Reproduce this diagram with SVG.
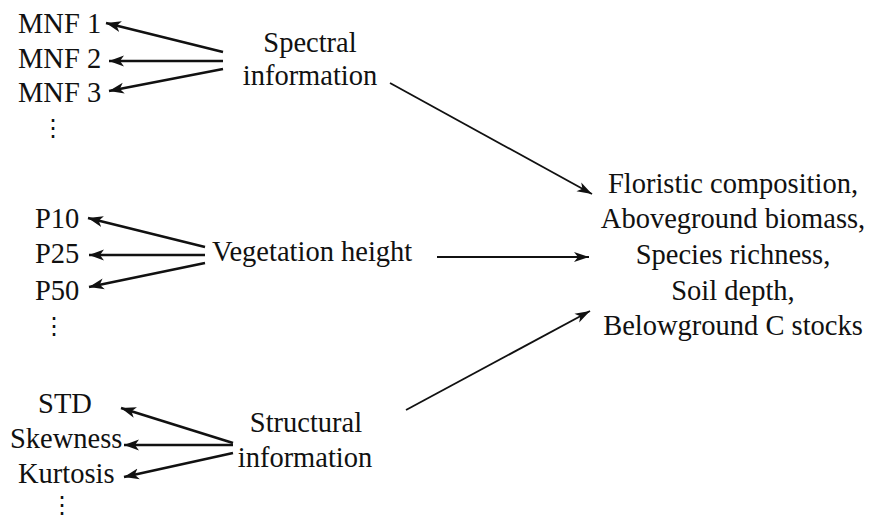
<svg xmlns="http://www.w3.org/2000/svg" width="870" height="518" viewBox="0 0 870 518">
<style>
text{font-family:"Liberation Serif","Times New Roman",serif;font-size:28.5px;fill:#111}
.dots{font-family:"DejaVu Serif","DejaVu Sans",serif;font-size:24px}
.s{stroke:#111;stroke-width:2.6;fill:none}
.b{stroke:#111;stroke-width:1.8;fill:none}
</style>
<defs>
<marker id="ah" markerUnits="userSpaceOnUse" markerWidth="16" markerHeight="12" refX="15" refY="6" orient="auto" viewBox="0 0 16 12">
<path d="M0,0.5 L15,6 L0,11.5 L4,6 Z" fill="#111"/>
</marker>
<marker id="ah2" markerUnits="userSpaceOnUse" markerWidth="16" markerHeight="12" refX="15" refY="6" orient="auto" viewBox="0 0 16 12">
<path d="M0,1 L15,6 L0,11 L4,6 Z" fill="#111"/>
</marker>
</defs>
<g id="mnf1"><text x="18" y="33">MNF 1</text></g>
<g id="mnf2"><text x="18" y="68">MNF 2</text></g>
<g id="mnf3"><text x="18" y="102">MNF 3</text></g>
<g id="dots1"><text class="dots" x="53" y="136" text-anchor="middle">⋮</text></g>
<g id="spectral"><text x="310" y="52" text-anchor="middle">Spectral</text><text x="310" y="85" text-anchor="middle">information</text></g>
<g id="p10"><text x="35" y="228">P10</text></g>
<g id="p25"><text x="35" y="263">P25</text></g>
<g id="p50"><text x="35" y="300">P50</text></g>
<g id="dots2"><text class="dots" x="54" y="334" text-anchor="middle">⋮</text></g>
<g id="vegetation"><text x="212" y="261">Vegetation height</text></g>
<g id="std"><text x="65" y="413" text-anchor="middle">STD</text></g>
<g id="skewness"><text x="10" y="448">Skewness</text></g>
<g id="kurtosis"><text x="18" y="483">Kurtosis</text></g>
<g id="dots3"><text class="dots" x="62" y="513" text-anchor="middle">⋮</text></g>
<g id="structural"><text x="306" y="432" text-anchor="middle">Structural</text><text x="305" y="467" text-anchor="middle">information</text></g>
<g id="outcomes">
<text x="733" y="193" text-anchor="middle">Floristic composition,</text>
<text x="733" y="228" text-anchor="middle">Aboveground biomass,</text>
<text x="733" y="264" text-anchor="middle">Species richness,</text>
<text x="733" y="300" text-anchor="middle">Soil depth,</text>
<text x="733" y="335" text-anchor="middle">Belowground C stocks</text>
</g>
<g id="connectors">
<line class="s" x1="223" y1="52" x2="106" y2="23" marker-end="url(#ah)"/>
<line class="s" x1="223" y1="61" x2="109" y2="61" marker-end="url(#ah)"/>
<line class="s" x1="223" y1="69" x2="109" y2="91" marker-end="url(#ah)"/>
<line class="s" x1="205" y1="247" x2="88" y2="218" marker-end="url(#ah)"/>
<line class="s" x1="205" y1="255" x2="89" y2="255" marker-end="url(#ah)"/>
<line class="s" x1="205" y1="263" x2="89" y2="287" marker-end="url(#ah)"/>
<line class="s" x1="233" y1="443" x2="121" y2="408" marker-end="url(#ah)"/>
<line class="s" x1="233" y1="445" x2="124" y2="445" marker-end="url(#ah)"/>
<line class="s" x1="233" y1="453" x2="124" y2="477" marker-end="url(#ah)"/>
<line class="b" x1="390" y1="83" x2="592" y2="194" marker-end="url(#ah2)"/>
<line class="b" x1="437" y1="257" x2="589" y2="257" marker-end="url(#ah2)"/>
<line class="b" x1="406" y1="410" x2="590" y2="311" marker-end="url(#ah2)"/>
</g>
</svg>
